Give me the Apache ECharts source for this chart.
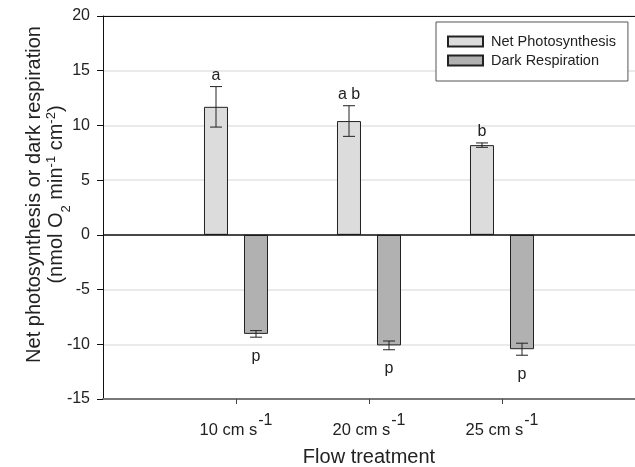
<!DOCTYPE html>
<html>
<head>
<meta charset="utf-8">
<script src="https://cdn.jsdelivr.net/npm/echarts@6/dist/echarts.min.js"></script>
<style>
  html, body { margin: 0; padding: 0; background: #fff; }
  #chart { width: 635px; height: 467px; }
</style>
</head>
<body>
<div id="chart"></div>
<script>
// Flow treatments (cm s^-1) placed at x = 1, 2, 3
const flowRates = [10, 20, 25];
const netPhotosynthesis = [11.7, 10.4, 8.2];
const netPhotosynthesisErr = [1.85, 1.4, 0.2];
const darkRespiration = [-9.05, -10.1, -10.45];
const darkRespirationErr = [0.3, 0.4, 0.55];
const photoLetters = ['a', 'a b', 'b'];
const respLetters = ['p', 'p', 'p'];
const yTicks = [-15, -10, -5, 0, 5, 10, 15, 20];

const FONT = 'Arial, "Liberation Sans", sans-serif';
const BAR_W = 24;
const BAR_OFFSET = 20; // half distance between paired bar centres

const xPos = flowRates.map((_, i) => i + 1);

const photoData = xPos.map((x, i) => [x, netPhotosynthesis[i]]);
const respData = xPos.map((x, i) => [x, darkRespiration[i]]);

// [x, value, err, side(-1 left / +1 right), letter]
const errData = [];
xPos.forEach((x, i) => {
  errData.push([x, netPhotosynthesis[i], netPhotosynthesisErr[i], -1, photoLetters[i]]);
  errData.push([x, darkRespiration[i], darkRespirationErr[i], 1, respLetters[i]]);
});

function renderError(params, api) {
  const x = api.value(0), v = api.value(1), e = api.value(2), side = api.value(3);
  const letter = errData[params.dataIndex][4];
  const top = api.coord([x, v + e]);
  const bot = api.coord([x, v - e]);
  const cx = top[0] + side * BAR_OFFSET;
  const cap = 6;
  const style = { stroke: '#222', lineWidth: 1 };
  const children = [
    { type: 'line', shape: { x1: cx, y1: top[1], x2: cx, y2: bot[1] }, style },
    { type: 'line', shape: { x1: cx - cap, y1: top[1], x2: cx + cap, y2: top[1] }, style },
    { type: 'line', shape: { x1: cx - cap, y1: bot[1], x2: cx + cap, y2: bot[1] }, style }
  ];
  const positive = v >= 0;
  children.push({
    type: 'text',
    style: {
      text: letter,
      x: cx,
      y: positive ? top[1] - 3 : bot[1] + 11,
      align: 'center',
      verticalAlign: positive ? 'bottom' : 'top',
      font: '16px ' + FONT,
      fill: '#222'
    }
  });
  return { type: 'group', children };
}

const chart = echarts.init(document.getElementById('chart'), null, { renderer: 'canvas' });

chart.setOption({
  animation: false,
  backgroundColor: '#fff',
  textStyle: { fontFamily: FONT },
  grid: { left: 103, right: 0, top: 16, bottom: 68, containLabel: false, outerBoundsMode: 'none' },
  legend: {
    left: 436,
    top: 22,
    orient: 'vertical',
    backgroundColor: '#fff',
    borderColor: '#555',
    borderWidth: 1,
    borderRadius: 0,
    padding: [12, 12, 13, 11],
    itemWidth: 35,
    itemHeight: 10,
    itemGap: 4,
    icon: 'rect',
    textStyle: { fontSize: 14.5, color: '#222', fontFamily: FONT, padding: [0, 0, 0, 3] },
    data: ['Net Photosynthesis', 'Dark Respiration']
  },
  xAxis: [{
    type: 'value',
    min: 0,
    max: 4,
    interval: 1,
    name: 'Flow treatment',
    nameLocation: 'middle',
    nameGap: 48,
    nameMoveOverlap: false,
    nameTextStyle: { fontSize: 20, color: '#222', fontFamily: FONT },
    axisLine: { show: true, onZero: false, lineStyle: { color: '#777', width: 2 } },
    axisTick: { show: true, inside: false, length: 5, lineStyle: { color: '#444' }, customValues: xPos },
    splitLine: { show: false },
    axisLabel: {
      margin: 14,
      customValues: xPos,
      formatter: v => {
        const i = xPos.indexOf(v);
        return i < 0 ? '' : '{n|' + flowRates[i] + ' cm s}{s|-1}';
      },
      rich: {
        n: { fontSize: 16.5, color: '#222', fontFamily: FONT, lineHeight: 26, verticalAlign: 'bottom' },
        s: { fontSize: 16, color: '#222', fontFamily: FONT, lineHeight: 26, verticalAlign: 'top', padding: [0, 0, 0, 1] }
      }
    }
  }, {
    type: 'value',
    position: 'top',
    min: 0,
    max: 4,
    interval: 1,
    axisLine: { show: true, onZero: false, lineStyle: { color: '#111', width: 1 } },
    axisTick: { show: false },
    axisLabel: { show: false },
    splitLine: { show: false }
  }],
  yAxis: {
    type: 'value',
    min: yTicks[0],
    max: yTicks[yTicks.length - 1],
    interval: 5,
    name: '{t|Net photosynthesis or dark respiration}\n{t|(nmol O}{sub|2}{t| min}{sup|-1}{t| cm}{sup|-2}{t|)}',
    nameLocation: 'middle',
    nameGap: 36,
    nameMoveOverlap: false,
    nameTextStyle: {
      color: '#222',
      padding: [0, 0, 0, 26],
      rich: {
        t: { fontSize: 20, color: '#222', fontFamily: FONT, lineHeight: 22 },
        sub: { fontSize: 13, color: '#222', fontFamily: FONT, lineHeight: 22, verticalAlign: 'bottom', padding: [0, 0, -6, 0] },
        sup: { fontSize: 13, color: '#222', fontFamily: FONT, lineHeight: 22, verticalAlign: 'top', padding: [0, 0, 8, 0] }
      }
    },
    axisLine: { show: true, lineStyle: { color: '#111', width: 1 } },
    axisTick: { show: true, inside: false, length: 6, lineStyle: { color: '#111' } },
    axisLabel: { margin: 13, fontSize: 16, color: '#222', fontFamily: FONT },
    splitLine: { show: true, lineStyle: { color: '#e3e3e3', width: 1.5 } }
  },
  series: [{
    name: 'Net Photosynthesis',
    type: 'bar',
    data: photoData,
    barWidth: BAR_W,
    barGap: '66.7%',
    itemStyle: { color: '#dbdcdb', borderColor: '#222', borderWidth: 1 },
    markLine: {
      silent: true,
      symbol: 'none',
      label: { show: false },
      lineStyle: { color: '#111', width: 1.5, type: 'solid' },
      data: [{ yAxis: 0 }]
    }
  }, {
    name: 'Dark Respiration',
    type: 'bar',
    data: respData,
    barWidth: BAR_W,
    barGap: '66.7%',
    itemStyle: { color: '#b0b1b0', borderColor: '#222', borderWidth: 1 }
  }, {
    name: 'errors',
    type: 'custom',
    renderItem: renderError,
    data: errData.map(d => d.slice(0, 4)),
    z: 5,
    silent: true
  }]
});
</script>
</body>
</html>
